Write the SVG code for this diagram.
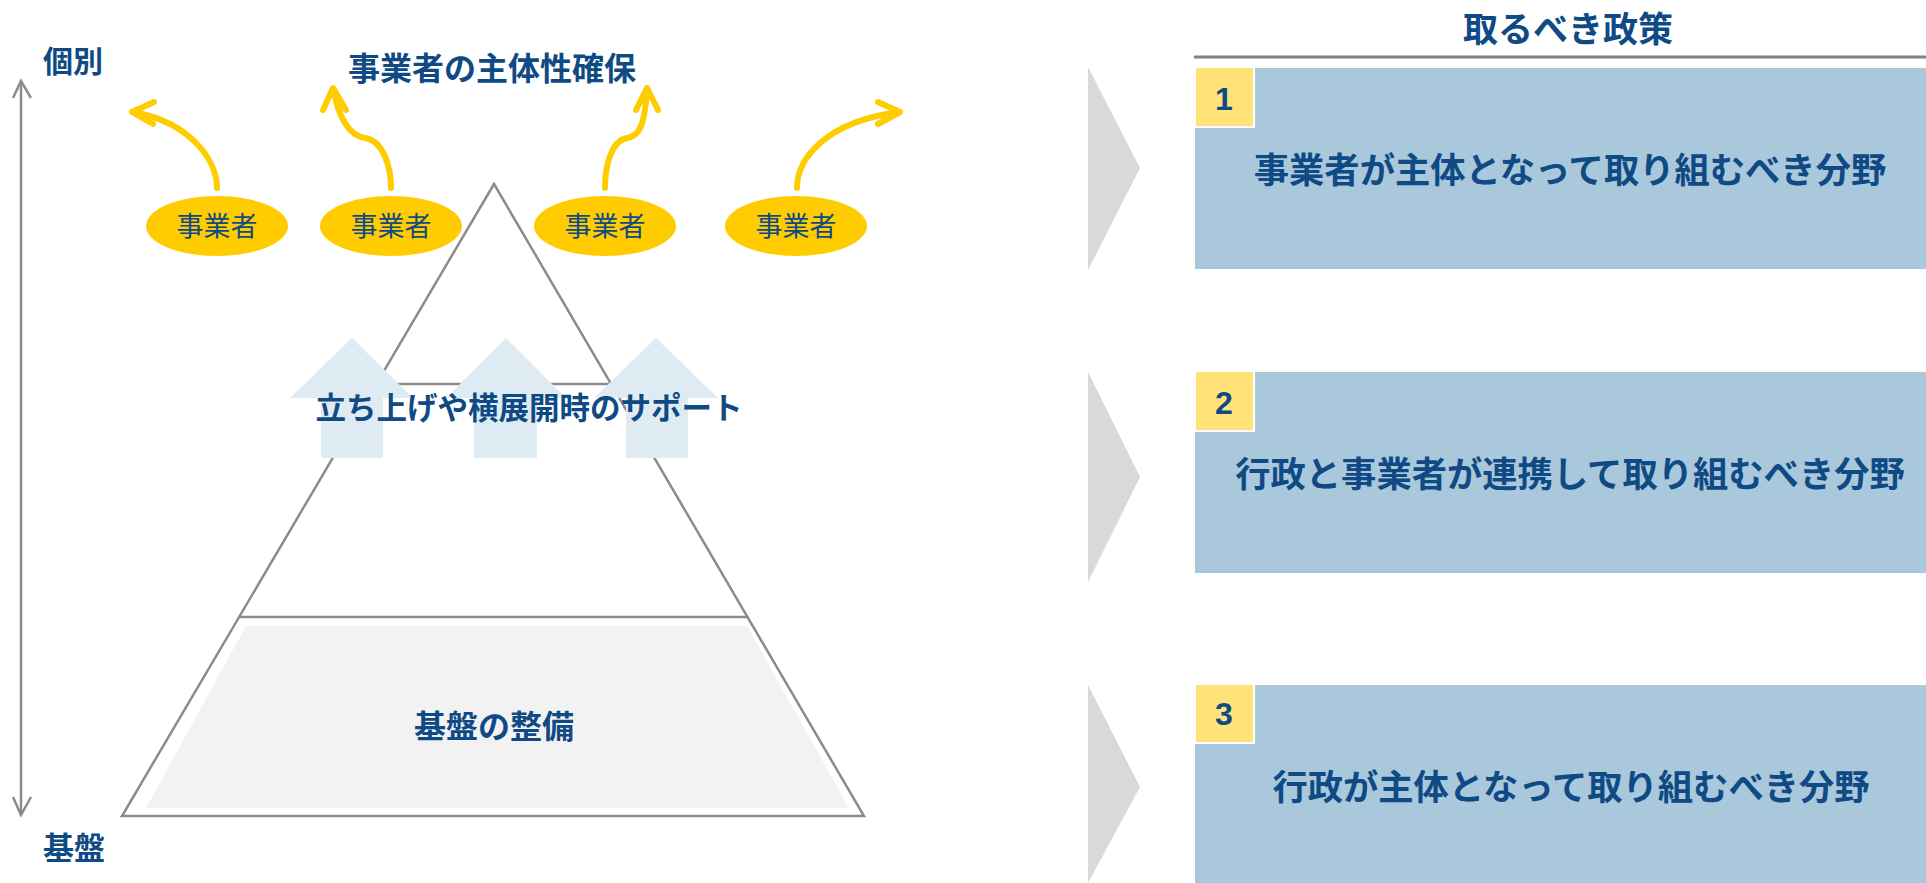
<svg xmlns="http://www.w3.org/2000/svg" width="1926" height="883" viewBox="0 0 1926 883">
<style>
.t{font-family:"Noto Sans CJK JP","Noto Sans CJK SC",sans-serif;fill:#0F4A85;font-weight:bold}
.tn{font-family:"Noto Sans CJK JP","Noto Sans CJK SC",sans-serif;fill:#0F4A85;font-weight:normal}
.num{font-family:"Liberation Sans",Arial,sans-serif;fill:#0F4A85;font-weight:bold;font-size:32px}
.gl{fill:none;stroke:#8C8C8C;stroke-width:2.5}
.ya{fill:none;stroke:#FFCC00;stroke-width:6;stroke-linecap:round;stroke-linejoin:round}
.ell{fill:#FFCC00}
.blk{fill:#DFEBF3}
.box{fill:#A9C8DB}
.yb{fill:#FFE378;stroke:#FFFFFF;stroke-width:2}
.chev{fill:#D9D9D9}
</style>
<rect width="1926" height="883" fill="#FFFFFF"/>

<g id="axis">
<line class="gl" x1="21" y1="81" x2="21" y2="815"/>
<polyline class="gl" points="13,98 21,81 31,98"/>
<polyline class="gl" points="13,797 21,815 31,797"/>
<text class="t" x="73" y="72" font-size="30" text-anchor="middle">個別</text>
<text class="t" x="74" y="859" font-size="31" text-anchor="middle">基盤</text>
</g>

<g id="pyramid">
<polygon points="246,626 747,626 849,808 146,808" fill="#F2F2F2"/>
<polygon class="gl" points="494,184 864,816 122,816"/>
<line class="gl" x1="376" y1="384" x2="612" y2="384" stroke-width="3"/>
<line class="gl" x1="239" y1="617" x2="747" y2="617" stroke-width="3"/>
<text class="t" x="494" y="738" font-size="32" text-anchor="middle">基盤の整備</text>
</g>

<g id="support">
<polygon class="blk" points="352,338 413,398 383,398 383,458 321,458 321,398 290,398"/>
<polygon class="blk" points="506,338 566,398 537,398 537,458 474,458 474,398 446,398"/>
<polygon class="blk" points="656,338 718,398 688,398 688,458 626,458 626,398 594,398"/>
<text class="t" x="529" y="419" font-size="30.5" text-anchor="middle">立ち上げや横展開時のサポート</text>
</g>

<g id="top-title">
<text class="t" x="492" y="80" font-size="32" text-anchor="middle">事業者の主体性確保</text>
</g>

<g id="connectors">
<path class="ya" d="M217,188 C217,160 190,122 133,112"/>
<polyline class="ya" points="154,102 132,112 153,124"/>
<path class="ya" d="M391,188 C391,165 382,140 365,138 C350,136 338,118 334,90"/>
<polyline class="ya" points="323,110 333,88 346,110"/>
<path class="ya" d="M605,188 C605,165 612,140 627,138 C642,136 645,118 647,90"/>
<polyline class="ya" points="636,110 647,88 658,110"/>
<path class="ya" d="M797,188 C797,160 824,122 899,112"/>
<polyline class="ya" points="878,102 900,112 878,124"/>
</g>

<g id="biz1"><ellipse class="ell" cx="217" cy="226" rx="71" ry="30"/><text class="tn" x="217" y="236" font-size="27" text-anchor="middle">事業者</text></g>
<g id="biz2"><ellipse class="ell" cx="391" cy="226" rx="71" ry="30"/><text class="tn" x="391" y="236" font-size="27" text-anchor="middle">事業者</text></g>
<g id="biz3"><ellipse class="ell" cx="605" cy="226" rx="71" ry="30"/><text class="tn" x="605" y="236" font-size="27" text-anchor="middle">事業者</text></g>
<g id="biz4"><ellipse class="ell" cx="796" cy="226" rx="71" ry="30"/><text class="tn" x="796" y="236" font-size="27" text-anchor="middle">事業者</text></g>

<g id="policy-header">
<text class="t" x="1568" y="42" font-size="35" text-anchor="middle">取るべき政策</text>
<line x1="1194" y1="57" x2="1926" y2="57" stroke="#808080" stroke-width="3"/>
</g>

<g id="chevrons">
<polygon class="chev" points="1088,67 1140,168 1088,270"/>
<polygon class="chev" points="1088,372 1140,477 1088,582"/>
<polygon class="chev" points="1088,685 1140,787 1088,883"/>
</g>

<g id="policy1">
<rect class="box" x="1195" y="68" width="731" height="201"/>
<rect class="yb" x="1195" y="67" width="59" height="60"/>
<text class="num" x="1224" y="110" text-anchor="middle">1</text>
<text class="t" x="1570" y="183" font-size="35.3" text-anchor="middle">事業者が主体となって取り組むべき分野</text>
</g>
<g id="policy2">
<rect class="box" x="1195" y="372" width="731" height="201"/>
<rect class="yb" x="1195" y="371" width="59" height="60"/>
<text class="num" x="1224" y="414" text-anchor="middle">2</text>
<text class="t" x="1570" y="487" font-size="35.3" text-anchor="middle">行政と事業者が連携して取り組むべき分野</text>
</g>
<g id="policy3">
<rect class="box" x="1195" y="685" width="731" height="200"/>
<rect class="yb" x="1195" y="684" width="59" height="59"/>
<text class="num" x="1224" y="725" text-anchor="middle">3</text>
<text class="t" x="1571" y="800" font-size="35.3" text-anchor="middle">行政が主体となって取り組むべき分野</text>
</g>
</svg>
